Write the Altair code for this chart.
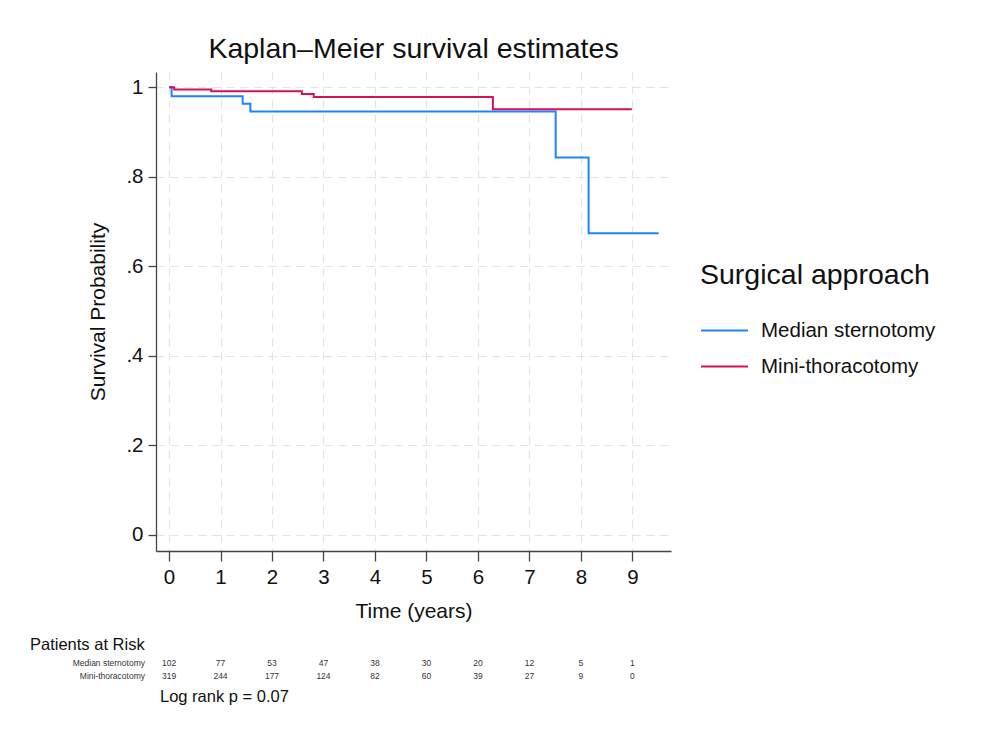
import altair as alt
import pandas as pd

# Kaplan-Meier step data
ms_time = [0.0, 0.05, 1.43, 1.58, 7.51, 8.15, 9.51]
ms_surv = [1.0, 0.980, 0.963, 0.946, 0.843, 0.674, 0.674]
mt_time = [0.0, 0.10, 0.82, 2.58, 2.81, 6.29, 8.99]
mt_surv = [1.0, 0.995, 0.991, 0.985, 0.978, 0.951, 0.951]

groups = ["Median sternotomy", "Mini-thoracotomy"]
colors = ["#1a85ff", "#d41159"]

# Patients at risk table
risk_years = [0, 1, 2, 3, 4, 5, 6, 7, 8, 9]
risk_ms = [102, 77, 53, 47, 38, 30, 20, 12, 5, 1]
risk_mt = [319, 244, 177, 124, 82, 60, 39, 27, 9, 0]

FONT = "Liberation Sans"

km = pd.DataFrame(
    {"time": ms_time + mt_time,
     "surv": ms_surv + mt_surv,
     "group": [groups[0]] * len(ms_time) + [groups[1]] * len(mt_time)}
)
risk = pd.DataFrame(
    {"year": risk_years + risk_years,
     "n": [str(v) for v in risk_ms] + [str(v) for v in risk_mt],
     "row": [groups[0]] * len(risk_years) + [groups[1]] * len(risk_years)}
)

xscale = alt.Scale(domain=[-0.253, 9.75], nice=False, zero=False)
yscale = alt.Scale(domain=[-0.036, 1.034], nice=False, zero=False)

lines = alt.Chart(km).mark_line(interpolate="step-after", strokeWidth=2).encode(
    x=alt.X("time:Q", scale=xscale,
            axis=alt.Axis(title="Time (years)", values=list(range(10)), format="d",
                          grid=True, gridDash=[8, 6], gridColor="#e4e4e4", gridWidth=1.2,
                          domainColor="#444444", domainWidth=1.3, tickColor="#444444",
                          tickWidth=1.3, tickSize=10, labelPadding=6, labelFontSize=20.5,
                          labelFont=FONT, labelColor="#111111", titleFont=FONT,
                          titleFontSize=21, titleFontWeight="normal", titleColor="#111111",
                          titlePadding=13)),
    y=alt.Y("surv:Q", scale=yscale,
            axis=alt.Axis(title="Survival Probability", values=[0, 0.2, 0.4, 0.6, 0.8, 1.0],
                          labelExpr="datum.value == 0 ? '0' : (datum.value == 1 ? '1' : replace(format(datum.value, '.1f'), '0.', '.'))",
                          grid=True, gridDash=[8, 6], gridColor="#e4e4e4", gridWidth=1.2,
                          domainColor="#444444", domainWidth=1.3, tickColor="#444444",
                          tickWidth=1.3, tickSize=8, labelPadding=5, labelFontSize=20.5,
                          labelFont=FONT, labelColor="#111111", titleFont=FONT,
                          titleFontSize=21, titleFontWeight="normal", titleColor="#111111",
                          titlePadding=17)),
    color=alt.Color("group:N", scale=alt.Scale(domain=groups, range=colors),
                    legend=alt.Legend(title="Surgical approach", orient="none",
                                      legendX=544, legendY=189,
                                      symbolType="stroke", symbolSize=2200,
                                      symbolStrokeWidth=2, clipHeight=22, rowPadding=14,
                                      titleFont=FONT, titleFontSize=28.5,
                                      titleFontWeight="normal", titleColor="#111111",
                                      titleLimit=400, labelLimit=400,
                                      titlePadding=30, labelFont=FONT, labelFontSize=20.5,
                                      labelColor="#111111", labelOffset=12)),
)

risk_ms_text = alt.Chart(risk[risk["row"] == groups[0]]).mark_text(
    fontSize=8.5, font=FONT, color="#333333", align="center", baseline="middle"
).encode(x=alt.X("year:Q", scale=xscale), y=alt.value(591), text="n:N")

risk_mt_text = alt.Chart(risk[risk["row"] == groups[1]]).mark_text(
    fontSize=8.5, font=FONT, color="#333333", align="center", baseline="middle"
).encode(x=alt.X("year:Q", scale=xscale), y=alt.value(604), text="n:N")

row_labels = pd.DataFrame({"label": groups, "ypix": [591, 604]})
row_text = alt.Chart(row_labels).mark_text(
    fontSize=8.5, font=FONT, color="#333333", align="right", baseline="middle"
).encode(x=alt.value(-11), y=alt.Y("ypix:Q", scale=None), text="label:N")

header = pd.DataFrame({"label": ["Patients at Risk"]})
header_text = alt.Chart(header).mark_text(
    fontSize=16.5, font=FONT, color="#111111", align="left", baseline="middle"
).encode(x=alt.value(-126), y=alt.value(573), text="label:N")

logrank = pd.DataFrame({"label": ["Log rank p = 0.07"]})
logrank_text = alt.Chart(logrank).mark_text(
    fontSize=16.5, font=FONT, color="#111111", align="left", baseline="middle"
).encode(x=alt.value(4), y=alt.value(625), text="label:N")

chart = alt.layer(
    lines, risk_ms_text, risk_mt_text, row_text, header_text, logrank_text
).properties(
    width=515, height=479,
    background="white",
    title=alt.TitleParams("Kaplan\u2013Meier survival estimates", font=FONT, fontSize=28.5,
                          fontWeight="normal", color="#111111", anchor="middle", offset=9),
    autosize=alt.AutoSizeParams(type="none"),
    padding={"left": 148, "top": 64, "right": 300, "bottom": 170},
).configure_view(strokeWidth=0, strokeOpacity=0)

chart.save("out.html", embed_options={"renderer": "svg", "actions": False})
